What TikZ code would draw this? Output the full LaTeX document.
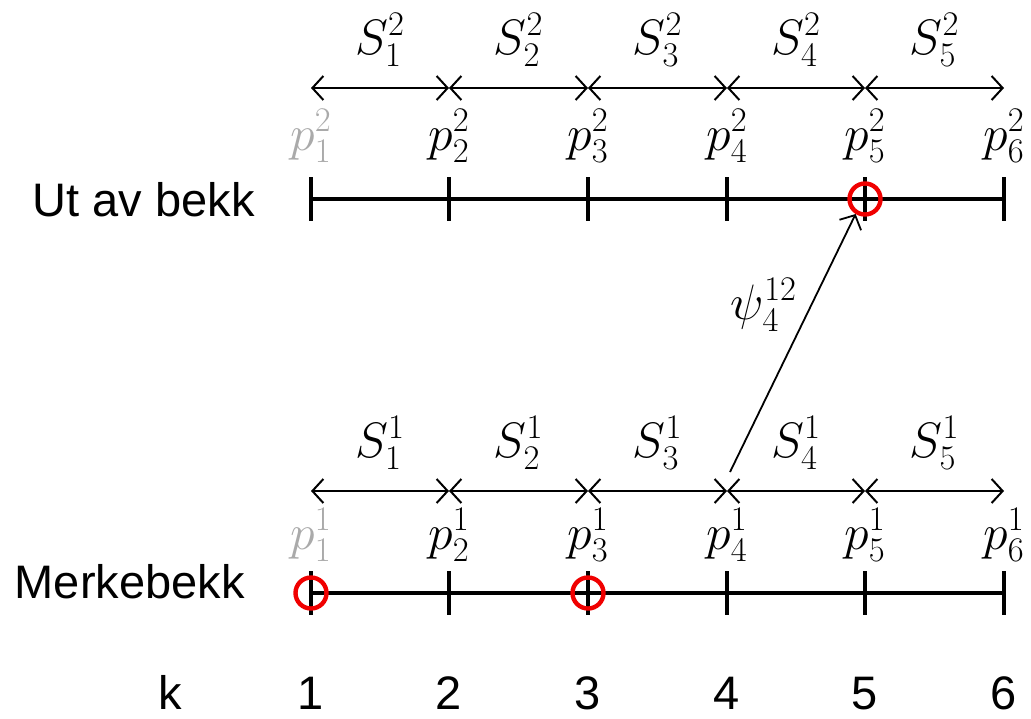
\documentclass[tikz,border=0pt]{standalone}
\usepackage{fontspec}
\setmainfont{Liberation Sans}
\usetikzlibrary{arrows.meta,calc}
\definecolor{faded}{RGB}{170,170,170}
\definecolor{ringred}{RGB}{240,0,0}
\begin{document}
\begin{tikzpicture}[x=0.5pt,y=-0.5pt,
  seg/.style={{Straight Barb[length=5.5pt,width=12pt]}-{Straight Barb[length=5.5pt,width=12pt]}, line width=1pt},
  axis/.style={line width=1.8pt},
  tickline/.style={line width=1.8pt},
  ring/.style={circle, draw=ringred, line width=2.2pt, minimum size=15.5pt, inner sep=0pt},
  txt/.style={font=\fontsize{23.5}{28}\selectfont, inner sep=0pt},
  mth/.style={font=\fontsize{25}{30}\selectfont, inner sep=0pt},
  link/.style={-{Straight Barb[length=5.5pt,width=12pt]}, line width=0.9pt}
]
\useasboundingbox (0,0) rectangle (1031,718);
\foreach \i/\x in {1/311,2/449,3/588,4/727,5/865,6/1004}{
  \coordinate (t\i) at (\x,199);
  \coordinate (b\i) at (\x,593);
  \coordinate (ta\i) at (\x,88);
  \coordinate (ba\i) at (\x,491);
  \draw[tickline] (t\i) ++(0,-22) -- ++(0,44);
  \draw[tickline] (b\i) ++(0,-22) -- ++(0,44);
  \node[txt, anchor=base] (k\i) at (\x,709) {\i};
}
\draw[axis] (t1) -- (t6);
\draw[axis] (b1) -- (b6);
\foreach \i/\j in {1/2,2/3,3/4,4/5,5/6}{
  \draw[seg] (ta\i) -- (ta\j);
  \draw[seg] (ba\i) -- (ba\j);
  \node[mth] (st\i) at ($ (ta\i)!0.5!(ta\j) + (0,-48) $) {$S^2_{\i}$};
  \node[mth] (sb\i) at ($ (ba\i)!0.5!(ba\j) + (0,-48) $) {$S^1_{\i}$};
}
\node[mth, text=faded] (pt1) at ($(t1)+(0,-63)$) {$p^2_1$};
\node[mth, text=faded] (pb1) at ($(b1)+(0,-58)$) {$p^1_1$};
\foreach \i in {2,...,6}{
  \node[mth] (pt\i) at ($(t\i)+(0,-63)$) {$p^2_{\i}$};
  \node[mth] (pb\i) at ($(b\i)+(0,-58)$) {$p^1_{\i}$};
}
\node[ring] (r5) at (t5) {};
\node[ring] (q1) at (b1) {};
\node[ring] (q3) at (b3) {};
\node[txt, anchor=base east] (top) at (255,216) {Ut av bekk};
\node[txt, anchor=base east] (bot) at (245,598) {Merkebekk};
\node[txt, anchor=base] (kk) at (170,709) {k};
\coordinate (ps) at (730,472);
\draw[link] (ps) -- (r5.238);
\node[mth] (psi) at (764,305) {$\psi^{12}_4$};
\end{tikzpicture}
\end{document}
